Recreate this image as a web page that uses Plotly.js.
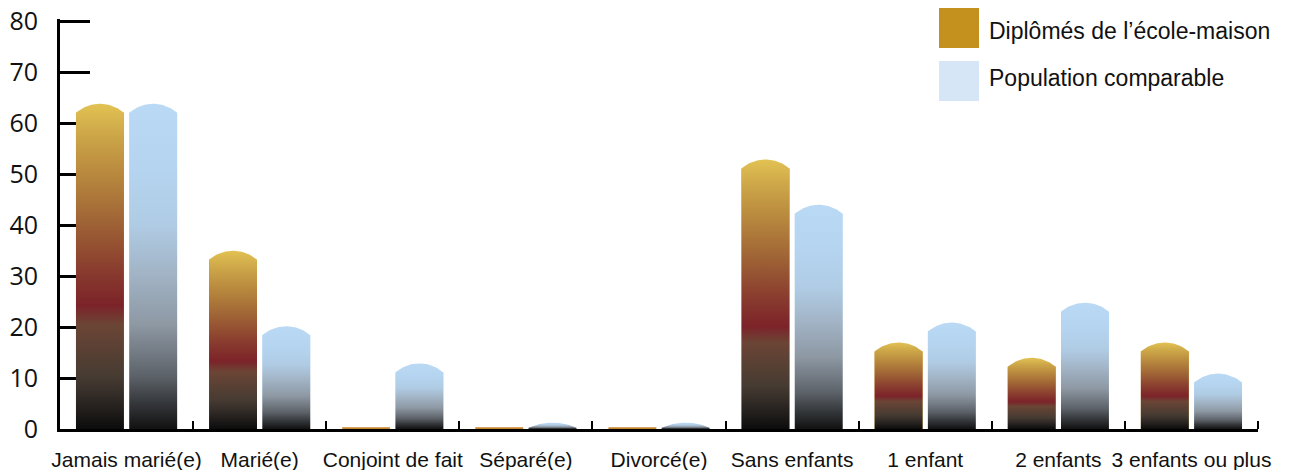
<!DOCTYPE html>
<html><head><meta charset="utf-8">
<script src="https://cdn.plot.ly/plotly-3.0.1.min.js"></script>
<style>body{margin:0;background:#fff}#chart{width:1302px;height:470px}</style>
</head><body><div id="chart"></div>
<script>
// ---- data ----
const categories = ["Jamais marié(e)", "Marié(e)", "Conjoint de fait", "Séparé(e)", "Divorcé(e)", "Sans enfants", "1 enfant", "2 enfants", "3 enfants ou plus"];
const homeschool = [62, 33.2, 0, 0, 0, 51.1, 15.2, 12.2, 15.2];
const comparable = [62, 18.4, 11.1, 0.25, 0.25, 42.2, 19.1, 23.0, 9.1];
const seriesNames = ["Diplômés de l’école-maison", "Population comparable"];
const yTicks = [0, 10, 20, 30, 40, 50, 60, 70, 80];

// ---- layout constants ----
const W = 1302, H = 470, M = {l: 60, r: 44, t: 19, b: 41};
const plotW = W - M.l - M.r, plotH = H - M.t - M.b;
const yMax = 80.4;
const pxX = plotW / categories.length, pxY = plotH / yMax;
const bargap = 0.2, bargroupgap = 0.1;
const slot = (1 - bargap) / 2, bw = slot * (1 - bargroupgap);
const offsets = [-slot / 2, slot / 2];
const ARCH_PX = 9, ZERO_H = 0.35;

const goldScale = [[0, '#0c0c0c'], [0.08, '#2a2522'], [0.16, '#463b32'], [0.32, '#6b4535'], [0.38, '#7c2329'], [0.48, '#883a2e'], [0.63, '#9e6235'], [0.79, '#b98a3e'], [0.9, '#cca548'], [1, '#e2c253']];
const blueScale = [[0, '#111111'], [0.08, '#35383b'], [0.16, '#5c6168'], [0.32, '#8d98a3'], [0.48, '#a2b4c6'], [0.63, '#b0cce5'], [0.8, '#b5d4ef'], [1, '#b9d9f4']];
const solid = ['#c4911e', '#d6e6f7'];
const scales = [goldScale, blueScale];

function barPath(xc, v) {
  const half = bw / 2, hPx = half * pxX;
  const sPx = Math.min(ARCH_PX, 4 * v * pxY);
  const xs = [xc - half, xc - half], ys = [0, v];
  if (sPx > 0) {
    const R = (hPx * hPx + sPx * sPx) / (2 * sPx), N = 40;
    for (let i = 0; i <= N; i++) {
      const dx = -hPx + 2 * hPx * i / N;
      const dy = Math.sqrt(R * R - dx * dx) - (R - sPx);
      xs.push(xc + dx / pxX); ys.push(v + dy / pxY);
    }
  }
  xs.push(xc + half, xc + half, xc - half); ys.push(v, 0, 0);
  return {xs, ys, top: v + sPx / pxY};
}

const traces = [];
const idx = categories.map((_, i) => i);
[homeschool, comparable].forEach((vals, s) => {
  traces.push({type: 'bar', x: idx, y: vals, name: seriesNames[s], marker: {color: solid[s], line: {width: 0}},
    showlegend: false, hoverinfo: 'skip'});
});
[homeschool, comparable].forEach((vals, s) => {
  vals.forEach((v, i) => {
    const xc = i + offsets[s];
    if (v === 0) {
      traces.push({type: 'scatter', mode: 'lines', x: [xc - bw / 2, xc - bw / 2, xc + bw / 2, xc + bw / 2, xc - bw / 2], y: [0, ZERO_H, ZERO_H, 0, 0],
        fill: 'toself', fillcolor: '#c8842c', line: {width: 0}, showlegend: false, hoverinfo: 'skip'});
      return;
    }
    const p = barPath(xc, v);
    traces.push({type: 'scatter', mode: 'lines', x: p.xs, y: p.ys, fill: 'toself',
      fillgradient: {type: 'vertical', colorscale: scales[s], start: 0, stop: p.top},
      line: {width: 0}, showlegend: false, hoverinfo: 'skip'});
  });
});

function pxToPaperX(px) { return (px - M.l) / plotW; }
function pxToPaperY(py) { return (H - M.b - py) / plotH; }

const legendItems = [{y0: 8, y1: 48, ty: 31, color: '#c4911e'}, {y0: 61, y1: 101, ty: 78, color: '#d6e6f7'}];
const shapes = legendItems.map(it => ({type: 'rect', xref: 'paper', yref: 'paper',
  x0: pxToPaperX(939), x1: pxToPaperX(979), y0: pxToPaperY(it.y1), y1: pxToPaperY(it.y0),
  fillcolor: it.color, line: {width: 0}}));
const annotations = legendItems.map((it, k) => ({xref: 'paper', yref: 'paper', x: pxToPaperX(987), y: pxToPaperY(it.ty),
  xanchor: 'left', yanchor: 'middle', text: seriesNames[k], showarrow: false,
  font: {family: 'Liberation Sans, Arial, sans-serif', size: 23, color: '#111'}}));

const layout = {
  width: W, height: H, margin: M, paper_bgcolor: '#fff', plot_bgcolor: '#fff',
  barmode: 'group', bargap: bargap, bargroupgap: bargroupgap, showlegend: false,
  xaxis: {range: [-0.5, categories.length - 0.5], tickmode: 'array', tickvals: idx, ticktext: categories, ticks: '',
    tickfont: {family: 'Liberation Sans, Arial, sans-serif', size: 21, color: '#111'}, ticklabelstandoff: 10,
    showline: true, linewidth: 3, linecolor: '#000', showgrid: false, zeroline: false, layer: 'above traces',
    minor: {tickmode: 'array', tickvals: idx.map(i => i + 0.5), ticks: 'inside', ticklen: 8, tickwidth: 2, tickcolor: '#000', showgrid: false},
    fixedrange: true},
  yaxis: {range: [0, yMax], tickmode: 'array', tickvals: yTicks, ticks: 'inside', ticklen: 30, tickwidth: 3, tickcolor: '#000',
    showline: true, linewidth: 3, linecolor: '#000', showgrid: false, zeroline: false, layer: 'below traces',
    tickfont: {family: 'Open Sans, sans-serif', size: 25, color: '#111'}, ticklabelstandoff: 14, fixedrange: true},
  shapes: shapes, annotations: annotations
};
Plotly.newPlot('chart', traces, layout, {displayModeBar: false, staticPlot: true});
</script></body></html>
